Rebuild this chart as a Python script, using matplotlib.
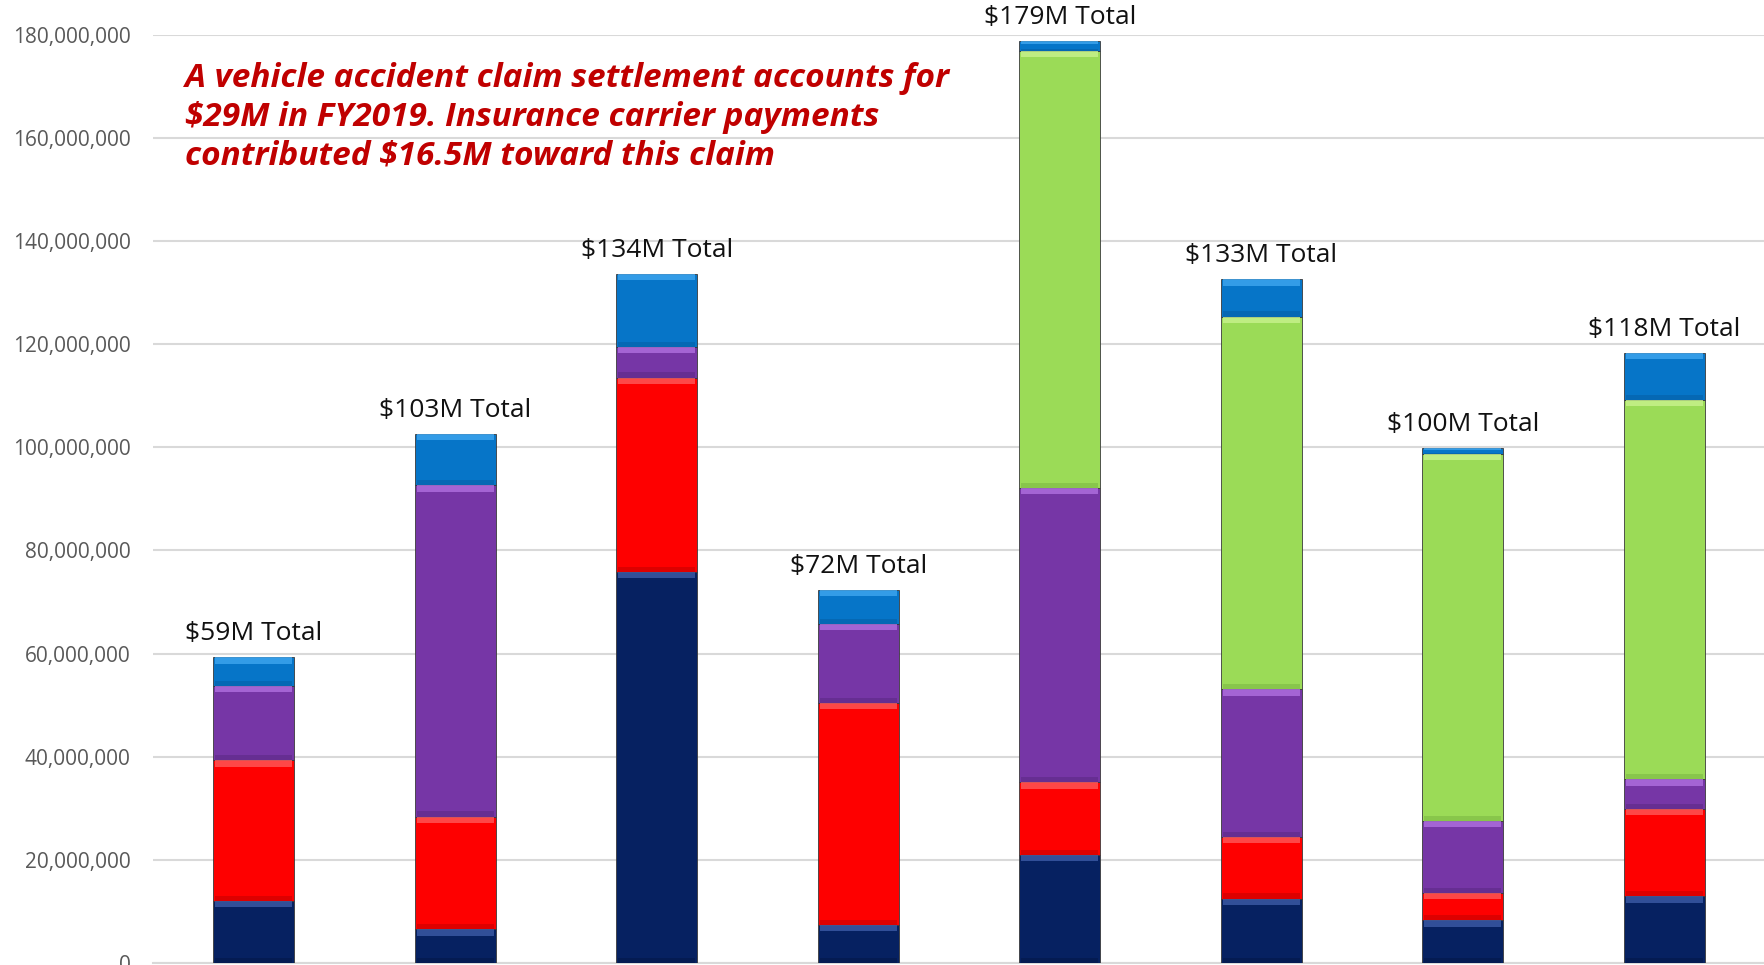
import numpy as np
import matplotlib.pyplot as plt
from matplotlib.ticker import FuncFormatter

# values in $M, bottom segment first
years = ["FY2012", "FY2013", "FY2014", "FY2015", "FY2016", "FY2017", "FY2018", "FY2019"]
navy = [12.0, 6.5, 75.8, 7.4, 21.0, 12.5, 8.25, 12.9]
red = [27.3, 21.9, 37.7, 43.0, 14.0, 11.9, 5.3, 17.0]
purple = [14.45, 64.2, 5.9, 15.3, 57.1, 28.65, 14.0, 5.7]
green = [0.0, 0.0, 0.0, 0.0, 84.8, 72.3, 71.2, 73.6]
blue = [5.5, 10.0, 14.2, 6.6, 1.9, 7.2, 1.1, 9.1]
total_labels = ["$59M Total", "$103M Total", "$134M Total", "$72M Total",
                "$179M Total", "$133M Total", "$100M Total", "$118M Total"]

series = [navy, red, purple, green, blue]
colors = ["#062161", "#fe0000", "#7636a6", "#9bdb57", "#0675c8"]
highlights = ["#3d5ba6", "#ff5a5a", "#b070e0", "#c9f28e", "#3fa6f0"]
shadows = ["#041848", "#c80000", "#5c2a85", "#7cb844", "#0560a8"]

fig = plt.figure(figsize=(17.65, 9.65), dpi=100)
ax = fig.add_axes([0.0867, 0.00207, 0.9133, 0.9620])

x = np.arange(len(years))
w = 0.40
bottom = np.zeros(len(years))
for vals, c, hc, sc in zip(series, colors, highlights, shadows):
    v = np.array(vals) * 1e6
    ax.bar(x, v, w, bottom=bottom, color=c, edgecolor="#3a3a3a", linewidth=0.6, zorder=3)
    # lighter band on top and darker band at the foot of each segment (bevel look)
    strip = np.minimum(1.2e6, v * 0.35)
    ax.bar(x, strip, w * 0.96, bottom=bottom + v - strip, color=hc, linewidth=0,
           alpha=0.8, zorder=4)
    foot = np.minimum(1.0e6, v * 0.2)
    ax.bar(x, foot, w * 0.96, bottom=bottom, color=sc, linewidth=0,
           alpha=0.6, zorder=4)
    bottom = bottom + v

for xi, top, lab in zip(x, bottom, total_labels):
    ax.annotate(lab, (xi, top), xytext=(0, 8), textcoords="offset points",
                ha="center", va="bottom", fontsize=19, family="Open Sans",
                color="#111111")

fig.text(0.105, 0.936,
         "A vehicle accident claim settlement accounts for\n"
         "$29M in FY2019. Insurance carrier payments\n"
         "contributed $16.5M toward this claim",
         ha="left", va="top", color="#c00000",
         fontsize=24, fontweight="bold", fontstyle="italic", family="Open Sans",
         linespacing=1.24)

ax.set_ylim(0, 180e6)
ax.set_xlim(-0.5, 7.5)
ax.set_yticks(np.arange(0, 180e6 + 1, 20e6))
ax.yaxis.set_major_formatter(FuncFormatter(lambda v, p: "{:,.0f}".format(v)))
ax.tick_params(axis="y", length=0, labelsize=15, labelcolor="#595959", pad=16)
for t in ax.get_yticklabels():
    t.set_family("Open Sans")
ax.set_xticks(x)
ax.set_xticklabels([])
ax.tick_params(axis="x", length=0)
ax.grid(axis="y", color="#d9d9d9", linewidth=1.5, zorder=0)
for s in ["top", "right", "left"]:
    ax.spines[s].set_visible(False)
ax.spines["bottom"].set_color("#d9d9d9")
ax.spines["bottom"].set_linewidth(1.5)

fig.savefig("out.png", dpi=100)
